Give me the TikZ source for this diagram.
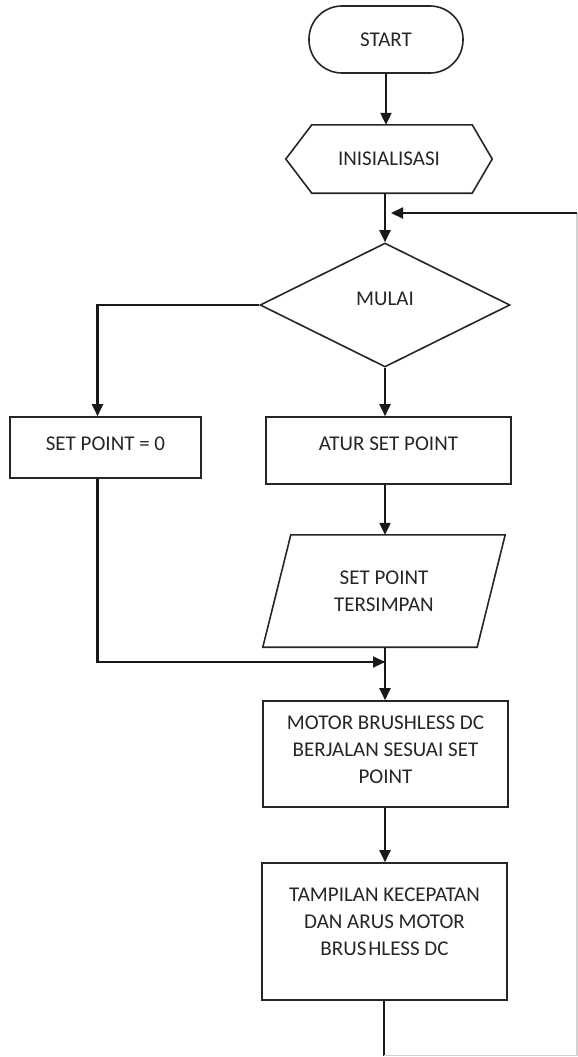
\documentclass[tikz,border=0pt]{standalone}
\usepackage{fontspec}
\setmainfont{Carlito}
\usetikzlibrary{arrows.meta,shapes.geometric}
\begin{document}
\begin{tikzpicture}[x=1pt,y=-1pt,
  lbl/.style={inner sep=0pt,text=black!85,font=\fontsize{21}{27}\selectfont,align=center},
  box/.style={draw=black!85,line width=1.6pt,inner sep=0pt,lbl},
  ghost/.style={inner sep=0pt,lbl},
  outline/.style={draw=black!85,line width=1.6pt,line join=miter},
  conn/.style={line width=2.2pt,draw=black!90},
  arr/.style={conn,-{Triangle[width=11pt,length=12pt]}},
  faint/.style={line width=1.5pt,draw=black!18}
]
\useasboundingbox (0,0) rectangle (578,1057);
\fill[white] (0,0) rectangle (578,1057);

% nodes
\node[box,rounded corners=33pt,minimum width=154pt,minimum height=67pt] (start) at (386,39.5) {START};

\node[ghost,minimum width=206pt,minimum height=68pt] (init) at (389,159) {INISIALISASI};
\draw[outline] (init.west) -- ([xshift=26pt]init.north west) -- ([xshift=-20pt]init.north east)
  -- (init.east) -- ([xshift=-20pt]init.south east) -- ([xshift=26pt]init.south west) -- cycle;

\node[box,diamond,aspect=2,minimum width=250pt,minimum height=124pt] (dec) at (385,305) {};
\node[lbl] (decT) at (385,299) {MULAI};

\node[box,minimum width=191pt,minimum height=61pt] (sp0) at (105.5,447.5) {};
\node[lbl] (sp0T) at (105.5,444) {SET POINT = 0};

\node[box,minimum width=245pt,minimum height=67pt] (atur) at (388.5,450.5) {};
\node[lbl] (aturT) at (388.5,444) {ATUR SET POINT};

\node[ghost,minimum width=242pt,minimum height=112pt] (store) at (384,591) {SET POINT\\TERSIMPAN};
\draw[outline] ([xshift=28pt]store.north west) -- (store.north east)
  -- ([xshift=-28pt]store.south east) -- (store.south west) -- cycle;

\node[box,minimum width=245pt,minimum height=106pt] (motor) at (385.5,754) {};
\node[lbl] (motorT) at (385.5,750) {MOTOR BRUSHLESS DC\\BERJALAN SESUAI SET\\POINT};

\node[box,minimum width=245pt,minimum height=137pt] (tamp) at (384.5,931.5) {};
\node[lbl] (tampT) at (384.5,921.5) {TAMPILAN KECEPATAN\\DAN ARUS MOTOR\\BRUS\hspace{2pt}HLESS DC};

% coordinates
\coordinate (merge) at (385,662);
\coordinate (bl) at (384,1055.5);
\coordinate (br) at (577,1055.5);
\coordinate (tr) at (577,213);
\coordinate (ret) at (391,213);

% connectors
\draw[arr] (start.south) -- (start.south |- init.north);
\draw[arr] (init.south -| dec.north) -- (dec.north);
\draw[arr] (dec.west) -| ([xshift=-8pt]sp0.north);
\draw[arr] (dec.south) -- (dec.south |- atur.north);
\draw[arr] (atur.south -| dec.south) -- (store.north -| dec.south);
\draw[conn] ([xshift=-8pt]sp0.south) |- (merge);
\draw[arr] ([xshift=-8pt]sp0.south |- merge) -- (merge);
\draw[arr] (store.south -| dec.south) -- (motor.north -| dec.south);
\draw[arr] (motor.south -| dec.south) -- (tamp.north -| dec.south);
\draw[conn] (tamp.south -| bl) -- (bl);
\draw[faint] (bl) -- (br) -- (tr);
\draw[arr] (tr) -- (ret);
\end{tikzpicture}
\end{document}
